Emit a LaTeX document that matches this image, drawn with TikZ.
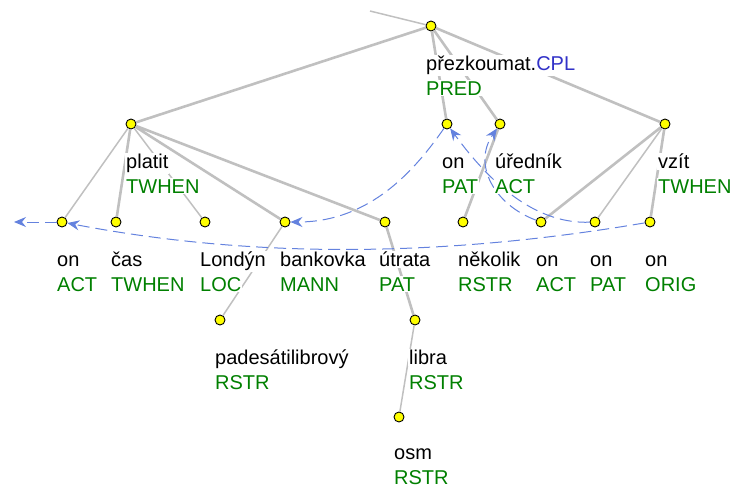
\documentclass[tikz,border=0pt]{standalone}
\usepackage{fontspec}
\setmainfont{Liberation Sans}
\usetikzlibrary{arrows.meta}
\definecolor{edgegray}{RGB}{192,192,192}
\definecolor{corefblue}{RGB}{100,130,222}
\definecolor{functorgreen}{RGB}{0,128,0}
\definecolor{cplblue}{RGB}{50,50,200}
\definecolor{dotyellow}{RGB}{255,255,0}

\begin{document}
\begin{tikzpicture}[x=1pt, y=-1pt,
  dot/.style={circle, draw=black, fill=dotyellow, line width=0.9pt, minimum size=10pt, inner sep=0pt},
  thinedge/.style={draw=edgegray, line width=1.5pt},
  thickedge/.style={draw=edgegray, line width=2.6pt},
  coref/.style={draw=corefblue, line width=1pt, dash pattern=on 12pt off 6pt, -{Stealth[length=12pt, width=10pt, inset=4pt]}},
  lemma/.style={anchor=base west, fill=white, inner sep=1pt, font=\fontsize{20}{24}\selectfont},
  functor/.style={lemma, text=functorgreen}]
\useasboundingbox (0,0) rectangle (747,488);
\node [dot] (root) at (431,26) {};
\node [dot] (platit) at (131,124) {};
\node [dot] (onpat) at (447,124) {};
\node [dot] (urednik) at (500,124) {};
\node [dot] (vzit) at (665,124) {};
\node [dot] (onact) at (62,222) {};
\node [dot] (cas) at (116,222) {};
\node [dot] (londyn) at (205,222) {};
\node [dot] (bankovka) at (285,222) {};
\node [dot] (utrata) at (385,222) {};
\node [dot] (nekolik) at (463,222) {};
\node [dot] (onact2) at (541,222) {};
\node [dot] (onpat2) at (595,222) {};
\node [dot] (onorig) at (650,222) {};
\node [dot] (padesat) at (220,320) {};
\node [dot] (libra) at (415,320) {};
\node [dot] (osm) at (399,417) {};
\coordinate (top) at (370,11);
\coordinate (offleft) at (14,222);

\draw [thinedge] (top) -- (root);
\draw [thickedge] (root) -- (platit) (root) -- (onpat) (root) -- (urednik) (root) -- (vzit);
\draw [thinedge] (platit) -- (onact) (platit) -- (londyn);
\draw [thickedge] (platit) -- (cas) (platit) -- (bankovka) (platit) -- (utrata);
\draw [thickedge] (urednik) -- (nekolik);
\draw [thickedge] (vzit) -- (onact2) (vzit) -- (onorig);
\draw [thinedge] (vzit) -- (onpat2);
\draw [thinedge] (bankovka) -- (padesat);
\draw [thickedge] (utrata) -- (libra);
\draw [thinedge] (libra) -- (osm);

\draw [coref] (onact) -- (offleft);
\draw [coref] (onorig) .. controls (450,256) and (260,260) .. (onact);
\draw [coref] (onpat) .. controls (415,170) and (370,222) .. (bankovka);
\draw [coref] (onpat2) .. controls (540,224) and (495,190) .. (onpat);
\draw [coref] (onact2) .. controls (495,205) and (472,165) .. (urednik);

\node [lemma] (root-l) at (425,70.5) {přezkoumat.\textcolor{cplblue}{CPL}};
\node [functor] (root-f) at (425,95) {PRED};
\node [lemma] (platit-l) at (125,168.5) {platit};
\node [functor] (platit-f) at (125,193) {TWHEN};
\node [lemma] (onpat-l) at (441,168.5) {on};
\node [functor] (onpat-f) at (441,193) {PAT};
\node [lemma] (urednik-l) at (494,168.5) {úředník};
\node [functor] (urednik-f) at (494,193) {ACT};
\node [lemma] (vzit-l) at (657,168.5) {vzít};
\node [functor] (vzit-f) at (657,193) {TWHEN};
\node [lemma] (onact-l) at (56,266.5) {on};
\node [functor] (onact-f) at (56,291) {ACT};
\node [lemma] (cas-l) at (110,266.5) {čas};
\node [functor] (cas-f) at (110,291) {TWHEN};
\node [lemma] (londyn-l) at (199,266.5) {Londýn};
\node [functor] (londyn-f) at (199,291) {LOC};
\node [lemma] (bankovka-l) at (279,266.5) {bankovka};
\node [functor] (bankovka-f) at (279,291) {MANN};
\node [lemma] (utrata-l) at (378,266.5) {útrata};
\node [functor] (utrata-f) at (378,291) {PAT};
\node [lemma] (nekolik-l) at (457,266.5) {několik};
\node [functor] (nekolik-f) at (457,291) {RSTR};
\node [lemma] (onact2-l) at (535,266.5) {on};
\node [functor] (onact2-f) at (535,291) {ACT};
\node [lemma] (onpat2-l) at (589,266.5) {on};
\node [functor] (onpat2-f) at (589,291) {PAT};
\node [lemma] (onorig-l) at (644,266.5) {on};
\node [functor] (onorig-f) at (644,291) {ORIG};
\node [lemma] (padesat-l) at (214,364.5) {padesátilibrový};
\node [functor] (padesat-f) at (214,389) {RSTR};
\node [lemma] (libra-l) at (408,364.5) {libra};
\node [functor] (libra-f) at (408,389) {RSTR};
\node [lemma] (osm-l) at (393,459.5) {osm};
\node [functor] (osm-f) at (393,484) {RSTR};
\end{tikzpicture}
\end{document}
